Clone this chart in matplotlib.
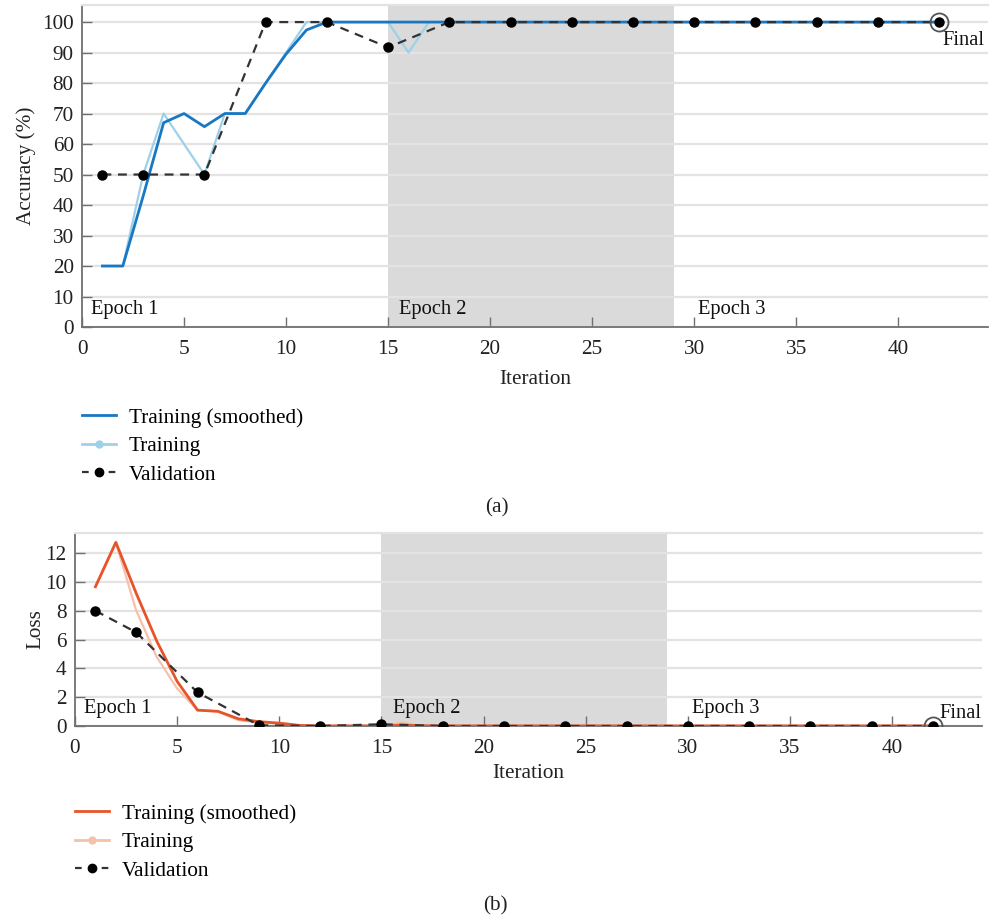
import matplotlib
matplotlib.use("Agg")
import matplotlib.pyplot as plt
import numpy as np
from matplotlib.lines import Line2D

plt.rcParams['font.family'] = ['Liberation Serif', 'DejaVu Serif']

# ---------------- data ----------------
iters = list(range(1, 43))

acc_smooth = [20, 20, 43, 67, 70, 65.7, 70, 70, 80, 89.5, 97.4, 100] + [100] * 30
acc_raw = [20, 20, 50, 70, 60, 50, 70, 70, 80, 90, 100, 100, 100, 100, 100, 90, 100] + [100] * 25

val_iters = [1, 3, 6, 9, 12, 15, 18, 21, 24, 27, 30, 33, 36, 39, 42]
val_acc = [50, 50, 50, 100, 100, 91.7, 100, 100, 100, 100, 100, 100, 100, 100, 100]

loss_smooth = [9.67, 12.75, 9.2, 5.9, 3.1, 1.1, 1.02, 0.5, 0.3, 0.2, 0.04, 0.01, 0.01, 0.01, 0.01, 0.06, 0.02] + [0.01] * 25
loss_raw = [9.67, 12.75, 8.0, 4.8, 2.6, 1.1, 1.0, 0.4, 0.25, 0.15, 0.02, 0.0, 0.0, 0.0, 0.0, 0.25, 0.0] + [0.0] * 25
val_loss = [8.0, 6.5, 2.33, 0.05, 0.0, 0.12, 0.0, 0.0, 0.0, 0.0, 0.0, 0.0, 0.0, 0.0, 0.0]

epoch_labels = ["Epoch 1", "Epoch 2", "Epoch 3"]
epoch_starts = [0.45, 15.55, 30.2]
shade_span = (15, 29)

# ---------------- figure ----------------
fig = plt.figure(figsize=(9.9, 9.21), dpi=100)
W, H = 990, 921

def axes_px(l, t, r, b):
    return fig.add_axes([l / W, 1 - b / H, (r - l) / W, (b - t) / H])

ax1 = axes_px(82, 5, 988, 327)
ax2 = axes_px(75, 533, 982, 726)

grid_c = '#e3e3e3'
spine_c = '#707070'
fs = 15.3
efs = 14.8

def style(ax, ylim, yticks, xpad, xlabelpad):
    ax.set_xlim(0, 44.4)
    ax.set_ylim(*ylim)
    ax.set_xticks([0, 5, 10, 15, 20, 25, 30, 35, 40])
    ax.set_yticks(yticks)
    ax.yaxis.grid(True, color=grid_c, linewidth=1.6)
    ax.set_axisbelow(True)
    ax.spines['right'].set_visible(False)
    ax.spines['top'].set_color(grid_c)
    ax.spines['top'].set_linewidth(1.6)
    ax.spines['left'].set_color(spine_c)
    ax.spines['bottom'].set_color(spine_c)
    ax.spines['left'].set_linewidth(1.3)
    ax.spines['bottom'].set_linewidth(1.3)
    ax.tick_params(direction='in', length=7, width=1.0, color=spine_c,
                   labelsize=fs, labelcolor='#222222')
    ax.tick_params(axis='x', pad=xpad)
    ax.tick_params(axis='y', pad=6)
    ax.set_xlabel("Iteration", fontsize=fs, color='#222222', labelpad=xlabelpad)

# ---- (a) accuracy ----
style(ax1, (0, 105.6), list(range(0, 101, 10)), 9.5, 8)
ax1.axvspan(*shade_span, color='#d9dad9', zorder=0.5, lw=0)
ax1.plot(iters, acc_raw, color='#9fd0ea', lw=1.6, zorder=2)
ax1.plot(iters, acc_smooth, color='#1a78c2', lw=2.0, zorder=3)
ax1.plot(val_iters, val_acc, color='#333333', lw=1.6, dashes=(4, 3),
         marker='o', ms=6.5, mfc='black', mec='black', zorder=4)
ax1.plot([val_iters[-1]], [val_acc[-1]], marker='o', ms=13, mfc='none',
         mec='#555555', mew=1.3, zorder=5)
ax1.set_ylabel("Accuracy (%)", fontsize=fs, color='#222222', labelpad=4)
for lab, xs in zip(epoch_labels, epoch_starts):
    ax1.text(xs, 5.8, lab, fontsize=efs, ha='left', va='center', color='#111111')
ax1.text(42.15, 94.0, "Final", fontsize=efs, ha='left', va='center', color='#111111')

# ---- (b) loss ----
style(ax2, (0, 13.4), [0, 2, 4, 6, 8, 10, 12], 9, 5)
ax2.axvspan(*shade_span, color='#d9dad9', zorder=0.5, lw=0)
ax2.plot(iters, loss_raw, color='#f7c0aa', lw=1.6, zorder=2)
ax2.plot(iters, loss_smooth, color='#e8542a', lw=2.0, zorder=3)
ax2.plot(val_iters, val_loss, color='#333333', lw=1.6, dashes=(4, 3),
         marker='o', ms=6.5, mfc='black', mec='black', zorder=4)
ax2.plot([val_iters[-1]], [val_loss[-1]], marker='o', ms=13, mfc='none',
         mec='#555555', mew=1.3, zorder=5)
ax2.set_ylabel("Loss", fontsize=fs, color='#222222', labelpad=0)
for lab, xs in zip(epoch_labels, epoch_starts):
    ax2.text(xs, 1.2, lab, fontsize=efs, ha='left', va='center', color='#111111')
ax2.text(42.3, 0.9, "Final", fontsize=efs, ha='left', va='center', color='#111111')

# ---- legends ----
def make_legend(x_px, y_px, c_smooth, c_raw):
    handles = [
        Line2D([], [], color=c_smooth, lw=2.0),
        Line2D([], [], color=c_raw, lw=2.0, marker='o', ms=5),
        Line2D([], [], color='#333333', lw=1.6, dashes=(3, 3), marker='o', ms=6, mfc='black', mec='black'),
    ]
    labels = ["Training (smoothed)", "Training", "Validation"]
    fig.legend(handles, labels, loc='upper left',
               bbox_to_anchor=(x_px / W, 1 - y_px / H), frameon=False,
               fontsize=fs, handlelength=1.6, handletextpad=0.6,
               labelspacing=0.4, borderpad=0, borderaxespad=0, numpoints=1)

make_legend(82, 408, '#1a78c2', '#9fd0ea')
make_legend(75, 804, '#e8542a', '#f7c0aa')

fig.text(497 / W, 1 - 508 / H, "(a)", fontsize=fs, ha='center', va='center', color='#222222')
fig.text(495 / W, 1 - 906 / H, "(b)", fontsize=fs, ha='center', va='center', color='#222222')

fig.savefig("out.png", dpi=100)
